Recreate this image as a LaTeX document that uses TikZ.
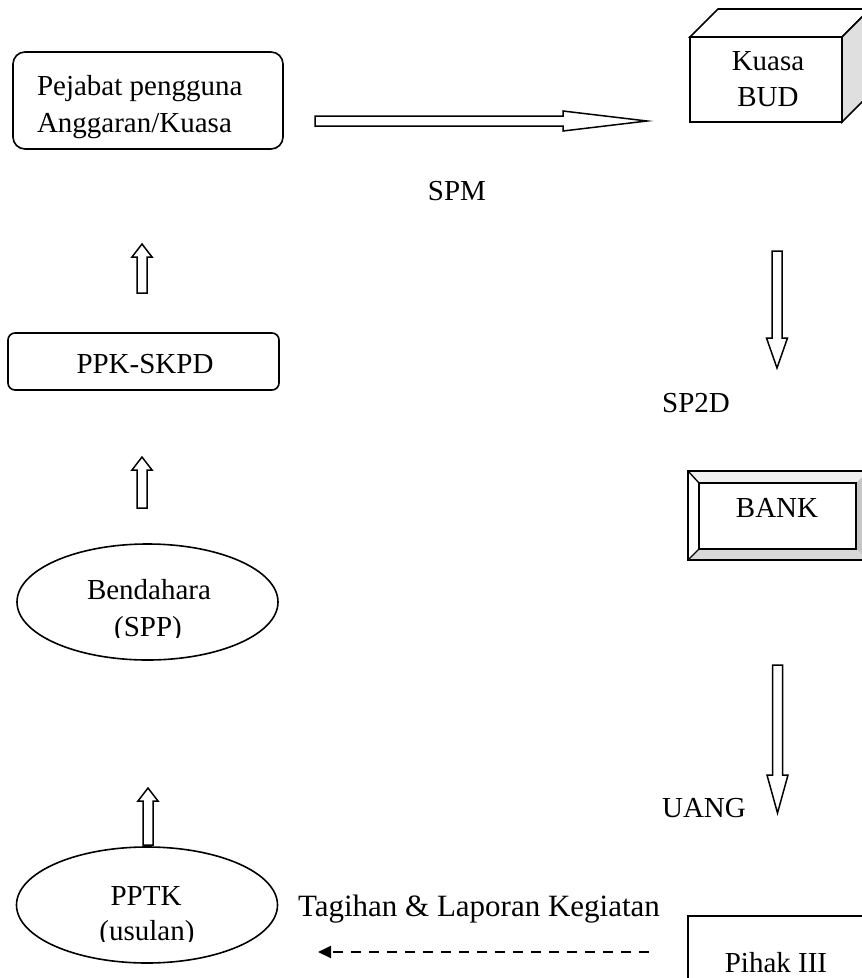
\documentclass[tikz,border=0pt]{standalone}
\usepackage{fontspec}
\setmainfont{Liberation Serif}
\usetikzlibrary{shapes.geometric,arrows.meta}

% hollow block arrow pointing up: x, tip y, tail y
\newcommand{\blockup}[3]{%
  \draw[blockarrow] (#1-5,#3) -- (#1-5,#2+13) -- (#1-10,#2+13) -- (#1,#2)
    -- (#1+10,#2+13) -- (#1+5,#2+13) -- (#1+5,#3) -- cycle;}
% hollow block arrow pointing down: x, tail y, head base y, tip y
\newcommand{\blockdown}[4]{%
  \draw[blockarrow] (#1-5,#2) -- (#1+5,#2) -- (#1+5,#3) -- (#1+10.5,#3)
    -- (#1,#4) -- (#1-10.5,#3) -- (#1-5,#3) -- cycle;}

\begin{document}
\begin{tikzpicture}[x=1pt,y=-1pt,
  every node/.style={inner sep=0pt, outer sep=0pt},
  txt/.style={font=\fontsize{29}{37}\selectfont},
  bigtxt/.style={font=\fontsize{31}{38}\selectfont},
  edge/.style={line width=1.6pt},
  blockarrow/.style={draw, line width=1.5pt, fill=white, line join=miter}]
\useasboundingbox (0,0) rectangle (862,978);
\clip (0,0) rectangle (862,978);

% --- Pejabat pengguna anggaran ---
\node[draw, edge, rounded corners=12pt, minimum width=270pt, minimum height=97pt] (pejabat) at (148,100.5) {};
\node[txt, anchor=base west] (pejabatA) at (37,95) {Pejabat pengguna};
\node[txt, anchor=base west] (pejabatB) at (37,132) {Anggaran/Kuasa};

% --- Kuasa BUD (cube) ---
\node[draw, edge, fill=white, minimum width=152pt, minimum height=85pt] (kuasa) at (766,79.5) {};
\draw[edge, fill=white, line join=miter] (kuasa.north west) -- ++(28,-28) -- ++(152,0) -- (kuasa.north east) -- cycle;
\draw[edge, fill=gray!25, line join=miter] (kuasa.north east) -- ++(28,-28) -- ++(0,85) -- (kuasa.south east) -- cycle;
\node[txt, anchor=base] (kuasaA) at (768,70) {Kuasa};
\node[txt, anchor=base] (kuasaB) at (768,106) {BUD};

% SPM arrow
\draw[blockarrow] (315,116) -- (563,116) -- (563,111) -- (647,121) -- (563,131) -- (563,126) -- (315,126) -- cycle;
\node[txt, anchor=base] (spm) at (457,200) {SPM};

% SP2D arrow
\blockdown{777}{251}{338}{368}
\node[txt, anchor=base] (sp2d) at (696,412) {SP2D};

% --- PPK-SKPD ---
\node[draw, edge, rounded corners=7pt, minimum width=271pt, minimum height=57pt] (ppk) at (143.5,361.5) {};
\node[txt, anchor=base] (ppkT) at (145,373) {PPK-SKPD};
\blockup{142}{244}{293}
\blockup{142}{457}{508}

% --- BANK (bevelled button) ---
\fill[gray!12] (688,471) -- (868,471) -- (856,483) -- (699,483) -- cycle;
\fill[white] (688,471) -- (699,483) -- (699,549) -- (688,560) -- cycle;
\fill[gray!30] (688,560) -- (699,549) -- (856,549) -- (868,560) -- cycle;
\fill[gray!45] (868,471) -- (856,483) -- (856,549) -- (868,560) -- cycle;
\draw[line width=1.3pt] (688,471) rectangle (868,560);
\draw[line width=1.3pt] (688,471) -- (699,483) (688,560) -- (699,549);
\node[draw, line width=1.8pt, fill=white, minimum width=157pt, minimum height=66pt] (bank) at (777.5,516) {};
\node[txt, anchor=base] (bankT) at (777,517) {BANK};

% UANG arrow
\blockdown{777.5}{665}{775}{813}
\node[txt, anchor=base] (uang) at (704,817) {UANG};

% --- Bendahara (SPP) ---
\node[draw, edge, ellipse, minimum width=261pt, minimum height=116pt] (bend) at (147.5,602) {};
\begin{scope}
  \clip (17,560) rectangle (278,637);
  \node[txt, anchor=base] (bendA) at (149,599) {Bendahara};
  \node[txt, anchor=base] (bendB) at (148,636) {(SPP)};
\end{scope}

% --- PPTK (usulan) ---
\blockup{148}{788}{845}
\node[draw, edge, ellipse, minimum width=261pt, minimum height=116pt] (pptk) at (147,905) {};
\begin{scope}
  \clip (17,860) rectangle (278,941);
  \node[txt, anchor=base] (pptkA) at (146,905) {PPTK};
  \node[txt, anchor=base] (pptkB) at (147,940) {(usulan)};
\end{scope}

% --- Pihak III and the claim/report flow ---
\node[draw, edge, anchor=north west, minimum width=190pt, minimum height=90pt] (pihak) at (688,916) {};
\node[txt, anchor=base] (pihakT) at (776,972) {Pihak III};
\node[bigtxt, anchor=base west] (tagihan) at (298,916) {Tagihan \& Laporan Kegiatan};
\coordinate (dstart) at (649,952);
\coordinate (dend) at (318,952);
\draw[line width=2pt, dash pattern=on 10pt off 8pt, -{Triangle[length=13pt,width=12pt]}] (dstart) -- (dend);
\end{tikzpicture}
\end{document}
